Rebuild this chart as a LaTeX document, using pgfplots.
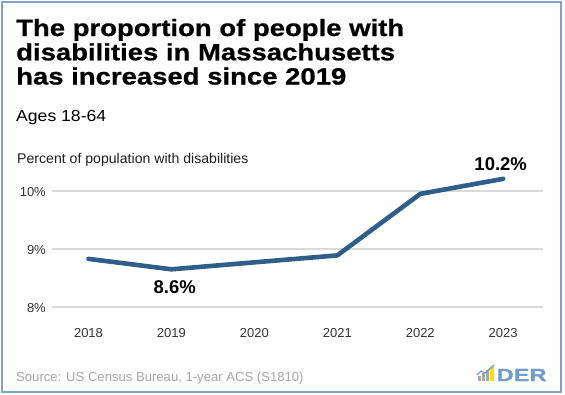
\documentclass[border=0pt]{standalone}
\usepackage{fontspec}
\setmainfont{Liberation Sans}
\newfontfamily\titlefont[FakeStretch=1.17,FakeBold=0.8]{Liberation Sans Bold}
\newfontfamily\subfont[FakeStretch=1.1]{Liberation Sans}
\newfontfamily\logofont[FakeStretch=1.35,FakeBold=0.5]{Liberation Sans Bold}
\usepackage{pgfplots}
\pgfplotsset{compat=1.18}
\definecolor{linec}{RGB}{47,94,138}
\definecolor{gridc}{RGB}{217,217,217}
\definecolor{framec}{RGB}{127,163,204}
\definecolor{srcc}{RGB}{166,166,166}
\definecolor{logoc}{RGB}{111,156,203}
\definecolor{ticklc}{RGB}{51,51,51}
\begin{document}
\begin{tikzpicture}[x=1pt,y=1pt]
\useasboundingbox (0,0) rectangle (565,-394);
\fill[white] (0,0) rectangle (565,-394);
\draw[framec, line width=2pt] (1.5,-1.5) rectangle (561,-392);
% title
\node[anchor=base west, inner sep=0pt] at (16,-36) {\titlefont\fontsize{23.5}{24}\selectfont The proportion of people with};
\node[anchor=base west, inner sep=0pt] at (16,-60.3) {\titlefont\fontsize{23.5}{24}\selectfont disabilities in Massachusetts};
\node[anchor=base west, inner sep=0pt] at (16,-84.5) {\titlefont\fontsize{23.5}{24}\selectfont has increased since 2019};
\node[anchor=base west, inner sep=0pt] at (16,-121) {\subfont\fontsize{16}{18}\selectfont Ages 18-64};
\node[anchor=base west, inner sep=0pt, text=black!88] at (17,-163.5) {\fontsize{14.1}{15}\selectfont Percent of population with disabilities};
\node[anchor=base west, inner sep=0pt, text=srcc] at (16,-381.5) {\fontsize{13.1}{15}\selectfont Source: US Census Bureau, 1-year ACS (S1810)};
% logo
\node[anchor=base west, inner sep=0pt, text=logoc] at (496.5,-381) {\logofont\fontsize{17.5}{18}\selectfont DER};
\fill[gray!70] (478,-381) rectangle (481,-376);
\fill[gray!70] (482,-381) rectangle (485,-373);
\fill[gray!70] (486,-381) rectangle (489,-370);
\fill[yellow!80!orange] (490,-381) rectangle (493.5,-367);
\draw[logoc, line width=1.3pt] (477,-375) -- (481,-371) -- (485,-373) -- (494,-365);
\begin{axis}[
  at={(52pt,-307pt)}, anchor=south west,
  width=491pt, height=130.5pt, scale only axis,
  xmin=-0.44, xmax=5.48, ymin=8, ymax=10.25,
  axis line style={draw=none},
  major tick length=0pt,
  ytick={8,9,10}, yticklabels={8\%,9\%,10\%},
  xtick={0,1,2,3,4,5}, xticklabels={2018,2019,2020,2021,2022,2023},
  ymajorgrids, grid style={gridc, line width=1.1pt},
  xmajorgrids=false,
  /pgf/number format/assume math mode=true,
  ticklabel style={font=\fontsize{13}{15}\selectfont, text=ticklc, inner sep=0pt},
  yticklabel style={anchor=base east, xshift=-6pt, yshift=-5.5pt},
  xticklabel style={anchor=base, yshift=-30pt},
  clip=false,
]
\addplot[linec, line width=4.6pt, line join=round, line cap=round] coordinates {
  (0,8.83) (1,8.65) (2,8.77) (3,8.89) (4,9.95) (5,10.21)
};
\node[anchor=base, inner sep=0pt, font=\bfseries\fontsize{18.5}{20}\selectfont] at (axis cs:1.04,8.24) {8.6\%};
\node[anchor=base, inner sep=0pt, font=\bfseries\fontsize{18.5}{20}\selectfont] at (axis cs:4.97,10.36) {10.2\%};
\end{axis}
\end{tikzpicture}
\end{document}
